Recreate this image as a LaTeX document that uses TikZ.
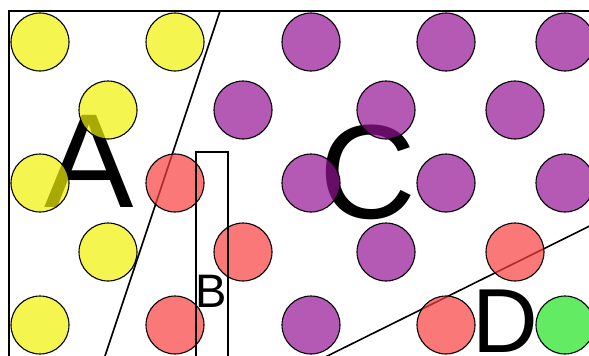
\documentclass[tikz,border=0pt]{standalone}
\usepackage{fontspec}
\setmainfont{Liberation Sans}
\definecolor{yelfill}{RGB}{241,241,5}
\definecolor{purfill}{RGB}{148,19,148}
\definecolor{redfill}{RGB}{248,62,62}
\definecolor{grnfill}{RGB}{34,227,34}

\begin{document}
\begin{tikzpicture}[
    x=1pt, y=-1pt,
    dot/.style={circle, draw=black, line width=1.1pt, inner sep=0pt,
                minimum size=58pt, fill opacity=0.7, draw opacity=1},
    yel/.style={dot, fill=yelfill},
    pur/.style={dot, fill=purfill},
    red/.style={dot, fill=redfill},
    grn/.style={dot, fill=grnfill},
    border/.style={line width=2.4pt},
    cut/.style={line width=1.6pt},
    big/.style={inner sep=0pt, anchor=base, font=\fontsize{134}{140}\selectfont},
    mid/.style={inner sep=0pt, anchor=base, font=\fontsize{91}{95}\selectfont},
    small/.style={inner sep=0pt, anchor=base, font=\fontsize{47}{50}\selectfont}
]
    \path[use as bounding box] (0,0) rectangle (589,356);
    \clip (0,0) rectangle (589,356);

    % outer frame
    \draw[border] (9,380) -- (9,11) -- (620,11);

    % region boundaries
    \coordinate (acTop) at (220,11);
    \coordinate (acBot) at (100,371);
    \coordinate (cdLow) at (297,371);
    \coordinate (cdHigh) at (620,211);
    \draw[cut] (acTop) -- (acBot);
    \draw[cut] (cdLow) -- (cdHigh);

    % region letters
    \node[big] (labA) at (89,207) {A};
    \node[big] (labC) at (368,218) {C};
    \node[mid] (labD) at (505,352) {D};

    % particles
    \foreach \cx/\cy/\col [count=\i] in {
        40/42/yel, 175/42/yel, 311/42/pur, 446/42/pur, 565/42/pur,
        108/110/yel, 243/110/pur, 386/110/pur, 515/110/pur,
        40/183/yel, 175/183/red, 311/183/pur, 446/183/pur, 565/183/pur,
        108/252/yel, 243/252/red, 386/252/pur, 515/252/red,
        40/325/yel, 175/325/red, 311/325/pur, 446/325/red, 565/325/grn}
        \node[\col] (p\i) at (\cx,\cy) {};

    % strip B
    \draw[cut] (196,380) -- (196,152) -- (228,152) -- (228,380);
    \node[small] (labB) at (211,307) {B};
\end{tikzpicture}
\end{document}
